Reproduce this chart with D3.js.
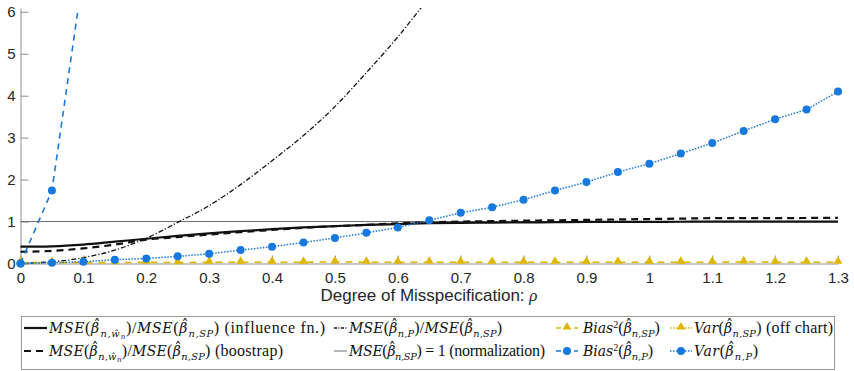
<!DOCTYPE html>
<html>
<head>
<meta charset="utf-8">
<script src="https://cdn.jsdelivr.net/npm/d3@7"></script>
<style>
  html, body { margin: 0; padding: 0; background: #fff; }
  svg { display: block; }
</style>
</head>
<body>
<div id="chart"></div>
<script>
// grid of misspecification values (rho)
const rho = [0, 0.05, 0.1, 0.15, 0.2, 0.25, 0.3, 0.35, 0.4, 0.45, 0.5, 0.55, 0.6, 0.65,
  0.7, 0.75, 0.8, 0.85, 0.9, 0.95, 1.0, 1.05, 1.1, 1.15, 1.2, 1.25, 1.3];

// MSE ratios
const mseInfluence = [0.40, 0.41, 0.45, 0.52, 0.59, 0.66, 0.72, 0.77, 0.82, 0.86, 0.89, 0.92, 0.94, 0.96,
  0.97, 0.975, 0.98, 0.985, 0.99, 0.99, 0.99, 0.995, 1.0, 1.0, 1.0, 1.0, 1.0];
const mseBootstrap = [0.28, 0.30, 0.36, 0.45, 0.57, 0.63, 0.69, 0.75, 0.80, 0.85, 0.89, 0.92, 0.96, 0.98,
  1.0, 1.01, 1.02, 1.03, 1.04, 1.05, 1.06, 1.07, 1.08, 1.08, 1.08, 1.085, 1.09];
const mseParametric = [0.01, 0.04, 0.14, 0.32, 0.60, 0.98, 1.38, 1.88, 2.45, 3.05, 3.74, 4.55, 5.40, 6.35];

// bias / variance components
const biasSP = [0.02, 0.02, 0.02, 0.02, 0.03, 0.02, 0.03, 0.03, 0.03, 0.03, 0.04, 0.03, 0.03, 0.03,
  0.03, 0.03, 0.03, 0.03, 0.03, 0.03, 0.03, 0.03, 0.03, 0.04, 0.03, 0.03, 0.03];
const biasP = [0, 1.74, 6.94];
const varP = [0, 0.02, 0.04, 0.09, 0.12, 0.17, 0.23, 0.32, 0.40, 0.50, 0.61, 0.73, 0.86, 1.03,
  1.21, 1.34, 1.52, 1.74, 1.94, 2.18, 2.38, 2.62, 2.87, 3.16, 3.44, 3.67, 4.10];

const xTicks = [0, 0.1, 0.2, 0.3, 0.4, 0.5, 0.6, 0.7, 0.8, 0.9, 1, 1.1, 1.2, 1.3];
const yTicks = [0, 1, 2, 3, 4, 5, 6];

const width = 854, height = 371;
const blue = '#1778de', yellow = '#e0b700';

const svg = d3.select('#chart').append('svg')
  .attr('width', width)
  .attr('height', height);

const x = d3.scaleLinear().domain([0, 1.3]).range([20.5, 838]);
const y = d3.scaleLinear().domain([0, 6.09]).range([263.5, 8]);

svg.append('clipPath').attr('id', 'plotclip')
  .append('rect')
  .attr('x', 0).attr('y', y(6.09))
  .attr('width', 854).attr('height', y(0) - y(6.09) + 10);

// axes
const xAxis = svg.append('g')
  .attr('transform', `translate(0,${y(0)})`)
  .call(d3.axisBottom(x).tickValues(xTicks).tickSizeInner(-8).tickSizeOuter(0).tickPadding(9)
    .tickFormat(d => d3.format('~g')(d)));
const yAxis = svg.append('g')
  .attr('transform', `translate(${x(0)},0)`)
  .call(d3.axisLeft(y).tickValues(yTicks).tickSizeInner(-8).tickSizeOuter(0).tickPadding(5)
    .tickFormat(d3.format('d')));

[xAxis, yAxis].forEach(a => {
  a.select('.domain').attr('stroke', '#8f8f8f');
  a.selectAll('.tick line').attr('stroke', '#8f8f8f');
  a.selectAll('.tick text')
    .attr('fill', '#262626')
    .style('font-family', '"Liberation Sans", Arial, sans-serif')
    .style('font-size', '15px');
});

// x label
const xl = svg.append('text')
  .attr('x', 429).attr('y', 301)
  .attr('text-anchor', 'middle')
  .attr('fill', '#262626')
  .style('font-family', '"Liberation Sans", Arial, sans-serif')
  .style('font-size', '17px');
xl.append('tspan').text('Degree of Misspecification: ');
xl.append('tspan').text('ρ')
  .style('font-family', '"Liberation Serif", serif')
  .style('font-style', 'italic');

const plot = svg.append('g').attr('clip-path', 'url(#plotclip)');

const line = d3.line()
  .x((d, i) => x(rho[i]))
  .y(d => y(d))
  .curve(d3.curveMonotoneX);
const straight = d3.line()
  .x((d, i) => x(rho[i]))
  .y(d => y(d));

// normalization line
plot.append('line')
  .attr('x1', x(0)).attr('x2', x(1.3))
  .attr('y1', y(1)).attr('y2', y(1))
  .attr('stroke', '#6e6e6e').attr('stroke-width', 1);

plot.append('path').datum(mseParametric)
  .attr('d', line).attr('fill', 'none')
  .attr('stroke', '#111').attr('stroke-width', 1.3)
  .attr('stroke-dasharray', '5,2,1.2,2');

plot.append('path').datum(mseBootstrap)
  .attr('d', line).attr('fill', 'none')
  .attr('stroke', '#111').attr('stroke-width', 2.2)
  .attr('stroke-dasharray', '7,5');

plot.append('path').datum(mseInfluence)
  .attr('d', line).attr('fill', 'none')
  .attr('stroke', '#111').attr('stroke-width', 2.2);

// Bias^2 SP (yellow dashed, triangles)
plot.append('path').datum(biasSP)
  .attr('d', straight).attr('fill', 'none')
  .attr('stroke', yellow).attr('stroke-width', 1.6)
  .attr('stroke-dasharray', '7,6');

const tri = d3.symbol().type(d3.symbolTriangle).size(34);
plot.selectAll('.tri').data(biasSP).enter().append('path')
  .attr('class', 'tri')
  .attr('d', tri)
  .attr('transform', (d, i) => `translate(${x(rho[i])},${y(d) - 1})`)
  .attr('fill', yellow);

// Bias^2 P (blue dashed, circles)
plot.append('path').datum(biasP)
  .attr('d', straight).attr('fill', 'none')
  .attr('stroke', blue).attr('stroke-width', 1.6)
  .attr('stroke-dasharray', '6,5');

plot.selectAll('.bp').data(biasP).enter().append('circle')
  .attr('class', 'bp')
  .attr('cx', (d, i) => x(rho[i]))
  .attr('cy', d => y(d))
  .attr('r', 4)
  .attr('fill', blue);

// Var P (blue dotted, circles)
plot.append('path').datum(varP)
  .attr('d', straight).attr('fill', 'none')
  .attr('stroke', blue).attr('stroke-width', 1.5)
  .attr('stroke-dasharray', '1.5,1.5');

plot.selectAll('.vp').data(varP).enter().append('circle')
  .attr('class', 'vp')
  .attr('cx', (d, i) => x(rho[i]))
  .attr('cy', d => y(d))
  .attr('r', 4)
  .attr('fill', blue);

// legend
const leg = svg.append('g');
leg.append('rect')
  .attr('x', 21.5).attr('y', 316.5)
  .attr('width', 813).attr('height', 53)
  .attr('fill', '#fff').attr('stroke', '#9a9a9a').attr('stroke-width', 1);

// math text helper: parts are [text, kind]
// kind r=roman, i=italic, s=sub, ss=subsub, p=sup; prefix h = put a hat over it
const FS = 14;
const mathFont = '"DejaVu Serif", "Liberation Serif", serif';
const romanFont = '"Liberation Serif", "Times New Roman", serif';
function mathText(g, px, py, parts, targetW) {
  const t = g.append('text')
    .attr('x', px).attr('y', py)
    .attr('fill', '#111')
    .style('font-family', mathFont)
    .style('font-size', FS + 'px');
  let shift = 0, pendDx = 0;
  const levels = { r: 0, i: 0, s: 3.5, ss: 5.5, p: -5.5 };
  const sizes = { r: FS + 2, i: FS, s: FS * 0.7, ss: FS * 0.5, p: FS * 0.72 };
  parts.forEach(([txt, kind]) => {
    const hat = kind[0] === 'h';
    const k = hat ? kind.slice(1) : kind;
    const target = levels[k];
    const base = t.append('tspan')
      .attr('dy', target - shift)
      .attr('dx', pendDx)
      .style('font-size', sizes[k] + 'px')
      .style('font-family', k === 'r' || k === 'p' ? romanFont : mathFont)
      .style('font-style', k === 'r' || k === 'p' ? 'normal' : 'italic')
      .text(txt);
    shift = target;
    pendDx = 0;
    if (hat) {
      const bw = base.node().getComputedTextLength();
      const lift = txt === 'β' ? sizes[k] * 0.22 : 0;
      const skew = sizes[k] * 0.08;
      const h = t.append('tspan')
        .attr('dy', -lift)
        .style('font-size', sizes[k] + 'px')
        .style('font-style', 'normal')
        .text('ˆ');
      const hw = h.node().getComputedTextLength();
      h.attr('dx', -(bw + hw) / 2 + skew);
      shift = target - lift;
      pendDx = (bw - hw) / 2 - skew;
    }
  });
  if (targetW) {
    const natural = t.node().getBBox().width;
    if (Math.abs(natural - targetW) > 2) {
      t.attr('textLength', targetW).attr('lengthAdjust', 'spacing');
    }
  }
  return t;
}

const mseW = [['MSE', 'i'], ['(', 'r'], ['β', 'hi'], ['n,', 's'], ['w', 'hs'], ['n', 'ss'], [')', 'r'],
  ['/', 'r'], ['MSE', 'i'], ['(', 'r'], ['β', 'hi'], ['n,SP', 's'], [')', 'r']];

const legendItems = [
  { lx: 24, lw: 23, tx: 49, tw: 276, row: 0, stroke: '#111', sw: 2.2, dash: null,
    parts: mseW.concat([[' (influence fn.)', 'r']]) },
  { lx: 24, lw: 23, tx: 49, tw: 234, row: 1, stroke: '#111', sw: 2.2, dash: '7,5',
    parts: mseW.concat([[' (boostrap)', 'r']]) },
  { lx: 334, lw: 13, tx: 349, tw: 153, row: 0, stroke: '#111', sw: 1.3, dash: '3,1.5,1,1.5',
    parts: [['MSE', 'i'], ['(', 'r'], ['β', 'hi'], ['n,P', 's'], [')', 'r'], ['/', 'r'],
      ['MSE', 'i'], ['(', 'r'], ['β', 'hi'], ['n,SP', 's'], [')', 'r']] },
  { lx: 334, lw: 13, tx: 349, tw: 196, row: 1, stroke: '#6e6e6e', sw: 1, dash: null,
    parts: [['MSE', 'i'], ['(', 'r'], ['β', 'hi'], ['n,SP', 's'], [')', 'r'], [' = 1 (normalization)', 'r']] },
  { lx: 556, lw: 22, tx: 583, tw: 79, row: 0, stroke: yellow, sw: 1.6, dash: '5,4', marker: 'tri',
    parts: [['Bias', 'i'], ['2', 'p'], ['(', 'r'], ['β', 'hi'], ['n,SP', 's'], [')', 'r']] },
  { lx: 556, lw: 22, tx: 583, tw: 73, row: 1, stroke: blue, sw: 1.6, dash: '5,4', marker: 'circ',
    parts: [['Bias', 'i'], ['2', 'p'], ['(', 'r'], ['β', 'hi'], ['n,P', 's'], [')', 'r']] },
  { lx: 670, lw: 22, tx: 694, tw: 139, row: 0, stroke: yellow, sw: 1.5, dash: '1.5,1.5', marker: 'tri',
    parts: [['Var', 'i'], ['(', 'r'], ['β', 'hi'], ['n,SP', 's'], [')', 'r'], [' (off chart)', 'r']] },
  { lx: 670, lw: 22, tx: 694, tw: 64, row: 1, stroke: blue, sw: 1.5, dash: '1.5,1.5', marker: 'circ',
    parts: [['Var', 'i'], ['(', 'r'], ['β', 'hi'], ['n,P', 's'], [')', 'r']] }
];

const rowY = [328, 351];
legendItems.forEach(it => {
  const cy = rowY[it.row];
  const l = leg.append('line')
    .attr('x1', it.lx).attr('x2', it.lx + it.lw)
    .attr('y1', cy).attr('y2', cy)
    .attr('stroke', it.stroke).attr('stroke-width', it.sw);
  if (it.dash) l.attr('stroke-dasharray', it.dash);
  const mx = it.lx + it.lw / 2;
  if (it.marker === 'tri') {
    leg.append('path').attr('d', tri)
      .attr('transform', `translate(${mx},${cy - 1})`).attr('fill', it.stroke);
  } else if (it.marker === 'circ') {
    leg.append('circle').attr('cx', mx).attr('cy', cy).attr('r', 4).attr('fill', it.stroke);
  }
  mathText(leg, it.tx, cy + 5, it.parts, it.tw);
});
</script>
</body>
</html>
